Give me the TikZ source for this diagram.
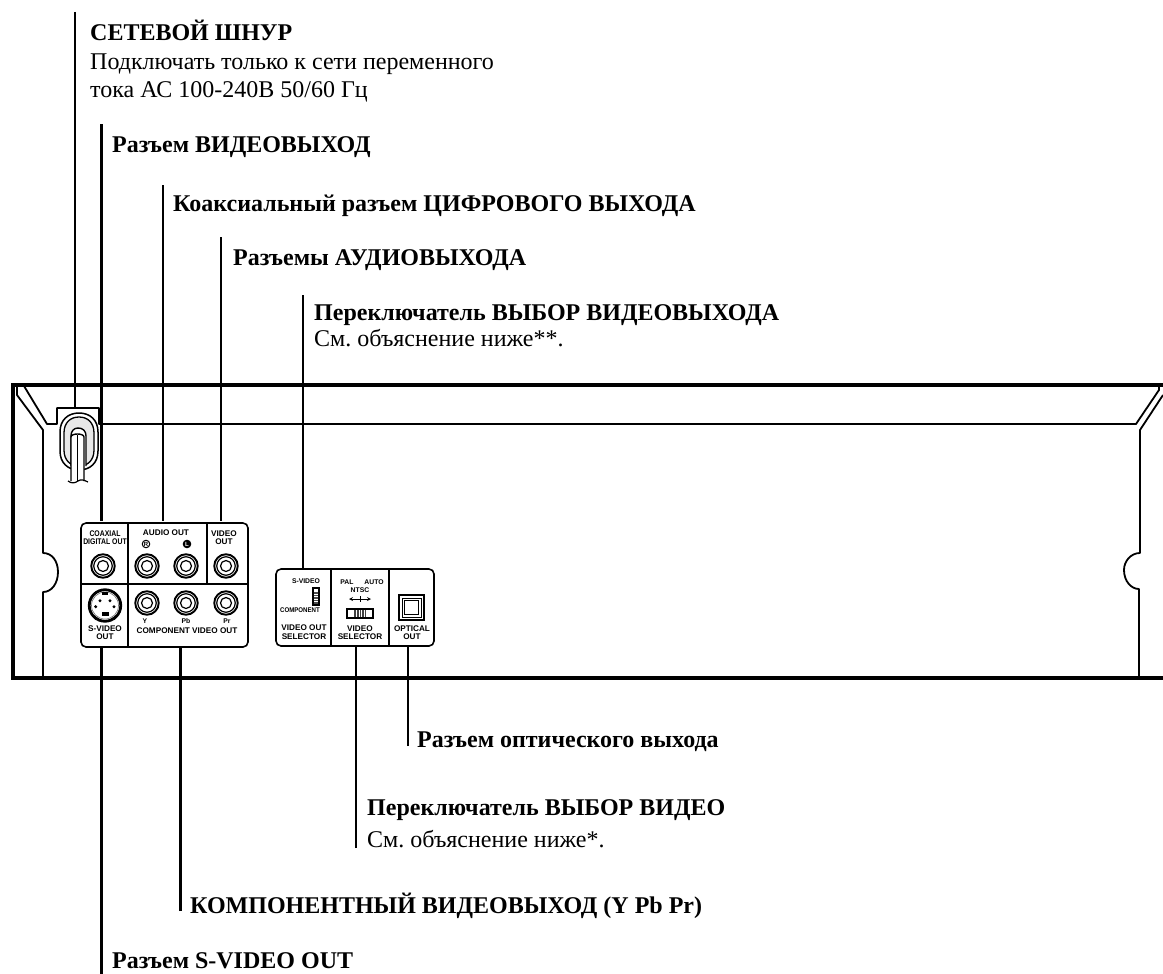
\documentclass[tikz,border=0pt]{standalone}
\usepackage{fontspec}
\setmainfont{Liberation Serif}
\setsansfont{Liberation Sans}
\frenchspacing
\tikzset{
  leader/.style={line width=2.6pt,black},
  frameline/.style={line width=4pt,black},
  inner/.style={line width=1.8pt,black,line join=round},
  thin/.style={line width=1.2pt,black},
  head/.style={anchor=base west,inner sep=0pt,font=\fontsize{24}{26}\selectfont\bfseries},
  body/.style={anchor=base west,inner sep=0pt,font=\fontsize{24}{26}\selectfont},
  tiny/.style={inner sep=0pt,font=\sffamily\bfseries\fontsize{8.2}{9}\selectfont},
  small/.style={inner sep=0pt,font=\sffamily\bfseries\fontsize{6.8}{7}\selectfont}
}
\newcommand{\jack}[3]{%
  \node[circle,draw,line width=1.9pt,minimum size=23.5pt,inner sep=0pt] (#1) at (#2,#3) {};
  \node[circle,draw,line width=1.2pt,minimum size=18.5pt,inner sep=0pt] (#1m) at (#2,#3) {};
  \node[circle,draw,line width=1.2pt,minimum size=11pt,inner sep=0pt] (#1i) at (#2,#3) {};
}
\begin{document}
\begin{tikzpicture}[x=1pt,y=-1pt]
\useasboundingbox (0,0) rectangle (1163,974);
% frame
\draw[frameline] (1163,385) -- (13,385) -- (13,678) -- (1163,678);
% upper chamfer and moulding
\draw[inner] (24,386) -- (47,424) -- (57,424) -- (57,408) -- (99,408) -- (99,424) -- (1136,424) -- (1159,390) -- (1159,386);
\draw[inner] (17,386) -- (17,395) -- (43,430) -- (43,553)
  .. controls (52,553) and (58,561) .. (58,572) .. controls (58,583) and (52,592) .. (43,592) -- (43,678);
\draw[inner] (1163,395) -- (1140,430) -- (1140,553)
  .. controls (1131,553) and (1124,561) .. (1124,570) .. controls (1124,581) and (1131,589) .. (1139,589) -- (1139,678);
% power cord
\draw[inner,line width=1.5pt,fill=white] (60,432) .. controls (60,420) and (68,413) .. (79,413) .. controls (90,413) and (98,420) .. (98,432)
  -- (98,451) .. controls (98,463) and (90,470) .. (79,470) .. controls (68,470) and (60,463) .. (60,451) -- cycle;
\draw[inner,line width=1.3pt,fill=black!9] (64,433) .. controls (64,423) and (70,417) .. (79,417) .. controls (88,417) and (94,423) .. (94,433)
  -- (94,450) .. controls (94,460) and (88,466) .. (79,466) .. controls (70,466) and (64,460) .. (64,450) -- cycle;
\draw[inner,line width=1.4pt,fill=white] (71,466) -- (71,436) .. controls (71,431) and (74,428) .. (78,428) .. controls (83,428) and (86,431) .. (86,436) -- (86,466);
\draw[inner,line width=1.4pt,fill=white] (71,481) -- (71,437) .. controls (71,433) and (84,433) .. (84,437) -- (84,481);
\draw[inner,line width=1.2pt] (77.5,435) -- (77.5,482);
\draw[inner,line width=1.2pt] (68,481) .. controls (72,484) and (75,483) .. (78,481) .. controls (81,479) and (84,480) .. (88,482);
% left panel
\draw[inner,line width=1.6pt,rounded corners=5pt] (81,523) rectangle (248,647);
\draw[thin] (128,523) -- (128,647) (81,584) -- (248,584) (207,523) -- (207,584);
\jack{ja}{103}{566}
\jack{jb}{147}{566}
\jack{jc}{186}{566}
\jack{jd}{226}{566}
\jack{je}{147}{603}
\jack{jf}{186}{603}
\jack{jg}{226}{603}
% s-video
\node[circle,draw,line width=2.8pt,minimum size=31.5pt,inner sep=0pt] (sv) at (105,605.5) {};
\node[circle,draw,black!55,line width=.6pt,minimum size=27pt,inner sep=0pt] (svi) at (105,605.5) {};
\fill[black] (94,615) -- (100,619.5) -- (95,620) -- cycle;
\fill[black] (116,615) -- (110,619.5) -- (115,620) -- cycle;
\fill[black] (101.7,592) rectangle (108.3,595);
\fill[black] (101.7,611.5) rectangle (109.3,615.5);
\foreach \p/\q in {100/600.7,110/600.7,95.7/606.7,114/606.7}{\fill[black] (\p,\q) circle (1.7pt);}
\node[tiny,xscale=.84] (t1) at (105,534) {COAXIAL};
\node[tiny,xscale=.84] (t2) at (105,542) {DIGITAL OUT};
\node[tiny] (t3) at (166,532.5) {AUDIO OUT};
\node[circle,draw,line width=1pt,minimum size=7.5pt,inner sep=0pt,font=\sffamily\bfseries\fontsize{6}{6}\selectfont] (t4) at (146,544) {R};
\node[circle,draw,fill=black,text=white,line width=1pt,minimum size=7.5pt,inner sep=0pt,font=\sffamily\bfseries\fontsize{6}{6}\selectfont] (t5) at (187,544) {L};
\node[tiny] (t6) at (224,534) {VIDEO};
\node[tiny] (t7) at (224,542) {OUT};
\node[small] (t8) at (145,621) {Y};
\node[small] (t9) at (186,621) {Pb};
\node[small] (t10) at (227,621) {Pr};
\node[tiny] (t11) at (187,631) {COMPONENT VIDEO OUT};
\node[tiny] (t12) at (105,629) {S-VIDEO};
\node[tiny] (t13) at (105,637) {OUT};
% right panel
\draw[inner,line width=1.6pt,rounded corners=5pt] (276,569) rectangle (434,646);
\draw[thin] (331,569) -- (331,646) (389,569) -- (389,646);
\node[small] (u1) at (306,581) {S-VIDEO};
\node[small,xscale=.9] (u2) at (300,610.5) {COMPONENT};
\node[tiny] (u3) at (304,628) {VIDEO OUT};
\node[tiny] (u4) at (304,637) {SELECTOR};
\draw[thin] (313,588) rectangle (319,605);
\fill[black!70] (314,592) rectangle (318,604);
\foreach \q in {594,596.5,599,601.5}{\draw[white,line width=.5pt] (314,\q) -- (318,\q);}
\node[small] (u5) at (347,582) {PAL};
\node[small] (u6) at (374,582) {AUTO};
\node[small] (u7) at (360,590) {NTSC};
\draw[line width=.8pt,<->,>=stealth] (349,599) -- (371,599);
\draw[line width=.8pt] (360,596) -- (360,602);
\draw[line width=1.2pt] (347,609) rectangle (373,618);
\fill[black!75] (354,610) rectangle (366,617);
\foreach \p in {356.5,359,361.5,364}{\draw[white,line width=.5pt] (\p,610) -- (\p,617);}
\node[tiny] (u8) at (360,629) {VIDEO};
\node[tiny] (u9) at (360,637) {SELECTOR};
\draw[line width=1.4pt] (399,595) rectangle (424,620);
\draw[line width=.9pt] (402,598) rectangle (421,617);
\draw[line width=.9pt] (404.5,600.5) rectangle (418.5,614.5);
\node[tiny] (u10) at (412,629) {OPTICAL};
\node[tiny] (u11) at (412,637) {OUT};
% labels
\node[head] (l1) at (90,41) {СЕТЕВОЙ ШНУР};
\node[body] (l1a) at (90,70) {Подключать только к сети переменного};
\node[body] (l1b) at (90,98) {тока АС 100-240В 50/60 Гц};
\node[head] (l2) at (112,153) {Разъем ВИДЕОВЫХОД};
\node[head] (l3) at (173,211) {Коаксиальный разъем ЦИФРОВОГО ВЫХОДА};
\node[head] (l4) at (233,265) {Разъемы АУДИОВЫХОДА};
\node[head] (l5) at (314,320) {Переключатель ВЫБОР ВИДЕОВЫХОДА};
\node[body] (l5a) at (314,346) {См. объяснение ниже**.};
\node[head] (l6) at (417,747) {Разъем оптического выхода};
\node[head] (l7) at (367,815) {Переключатель ВЫБОР ВИДЕО};
\node[body] (l7a) at (367,847) {См. объяснение ниже*.};
\node[head] (l8) at (190,913) {КОМПОНЕНТНЫЙ ВИДЕОВЫХОД (Y Pb Pr)};
\node[head] (l9) at (112,968) {Разъем S-VIDEO OUT};
% leaders
\coordinate (a1) at (75,12);   \coordinate (b1) at (75,408);
\coordinate (a2) at (101.5,124); \coordinate (b2) at (101.5,521);
\coordinate (a3) at (163,185); \coordinate (b3) at (163,521);
\coordinate (a4) at (221,237); \coordinate (b4) at (221,521);
\coordinate (a5) at (303,295); \coordinate (b5) at (303,568);
\coordinate (a6) at (408,746); \coordinate (b6) at (408,646);
\coordinate (a7) at (356,848); \coordinate (b7) at (356,646);
\coordinate (a8) at (180.5,911); \coordinate (b8) at (180.5,647);
\coordinate (a9) at (101.5,974); \coordinate (b9) at (101.5,647);
\foreach \n in {1,...,9}{\draw[leader] (a\n) -- (b\n);}
\end{tikzpicture}
\end{document}
